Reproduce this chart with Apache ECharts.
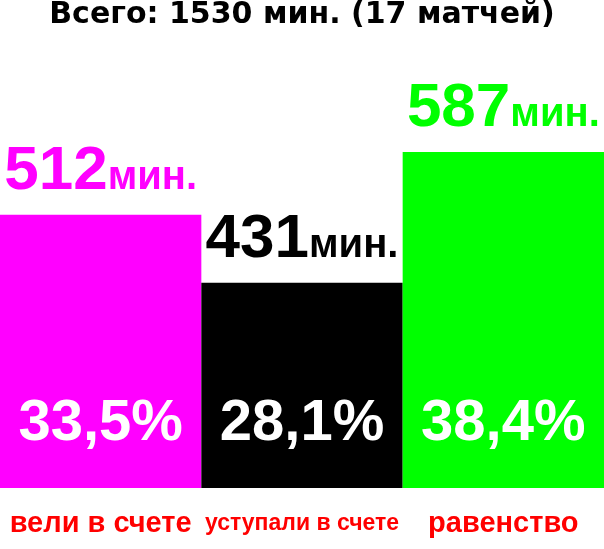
<!DOCTYPE html>
<html>
<head>
<meta charset="utf-8">
<script src="https://cdn.jsdelivr.net/npm/echarts@6/dist/echarts.min.js"></script>
<style>
  html, body { margin: 0; padding: 0; background: #fff; }
  #main { width: 604px; height: 549px; }
</style>
</head>
<body>
<div id="main"></div>
<script>
// данные
var categories = ['вели в счете', 'уступали в счете', 'равенство'];
var minutes = [512, 431, 587];
var percents = ['33,5', '28,1', '38,4'];
var barColors = ['#ff00ff', '#000000', '#00ff00'];
var titleText = 'Всего: 1530 мин. (17 матчей)';

var sans = '"Liberation Sans", Arial, sans-serif';
// стили подписей категорий (вторая длиннее, поэтому мельче)
var catStyles = ['c0', 'c1', 'c2'];

var myChart = echarts.init(document.getElementById('main'));

var option = {
    animation: false,
    title: {
        text: titleText,
        left: 'center',
        top: 0,
        padding: 0,
        textStyle: {
            fontFamily: '"DejaVu Sans", sans-serif',
            fontWeight: 'bold',
            fontSize: 30,
            color: '#000'
        }
    },
    grid: {
        left: 0,
        right: 0,
        top: 141,
        bottom: 61,
        containLabel: false,
        outerBoundsMode: 'none'
    },
    xAxis: {
        type: 'category',
        data: categories,
        axisLine: { show: false },
        axisTick: { show: false },
        axisLabel: {
            interval: 0,
            margin: 21,
            formatter: function (v, i) {
                return '{' + catStyles[i] + '|' + v + '}';
            },
            rich: {
                c0: { color: '#ff0000', fontFamily: sans, fontWeight: 'bold', fontSize: 29 },
                c1: { color: '#ff0000', fontFamily: sans, fontWeight: 'bold', fontSize: 23, padding: [3, 0, 0, 0] },
                c2: { color: '#ff0000', fontFamily: sans, fontWeight: 'bold', fontSize: 29 }
            }
        }
    },
    yAxis: {
        type: 'value',
        min: 186,
        max: 600,
        show: false
    },
    series: [
        {
            type: 'bar',
            barCategoryGap: 0,
            data: minutes.map(function (v, i) {
                return {
                    value: v,
                    itemStyle: { color: barColors[i] },
                    label: {
                        rich: {
                            big: { color: barColors[i] },
                            small: { color: barColors[i] }
                        }
                    }
                };
            }),
            label: {
                show: true,
                position: 'top',
                distance: 12,
                formatter: function (p) {
                    return '{big|' + p.value + '}{small|мин.}';
                },
                rich: {
                    big: {
                        fontFamily: sans,
                        fontWeight: 'bold',
                        fontSize: 62,
                        verticalAlign: 'bottom'
                    },
                    small: {
                        fontFamily: sans,
                        fontWeight: 'bold',
                        fontSize: 40,
                        verticalAlign: 'bottom',
                        padding: [0, 0, 5, 0]
                    }
                }
            }
        },
        {
            type: 'bar',
            barGap: '-100%',
            barCategoryGap: 0,
            silent: true,
            data: minutes,
            itemStyle: { color: 'rgba(0,0,0,0)' },
            label: {
                show: true,
                position: 'insideBottom',
                distance: 35,
                color: '#fff',
                fontFamily: sans,
                fontWeight: 'bold',
                fontSize: 58,
                formatter: function (p) {
                    return percents[p.dataIndex] + '%';
                }
            }
        }
    ]
};
myChart.setOption(option);
</script>
</body>
</html>
